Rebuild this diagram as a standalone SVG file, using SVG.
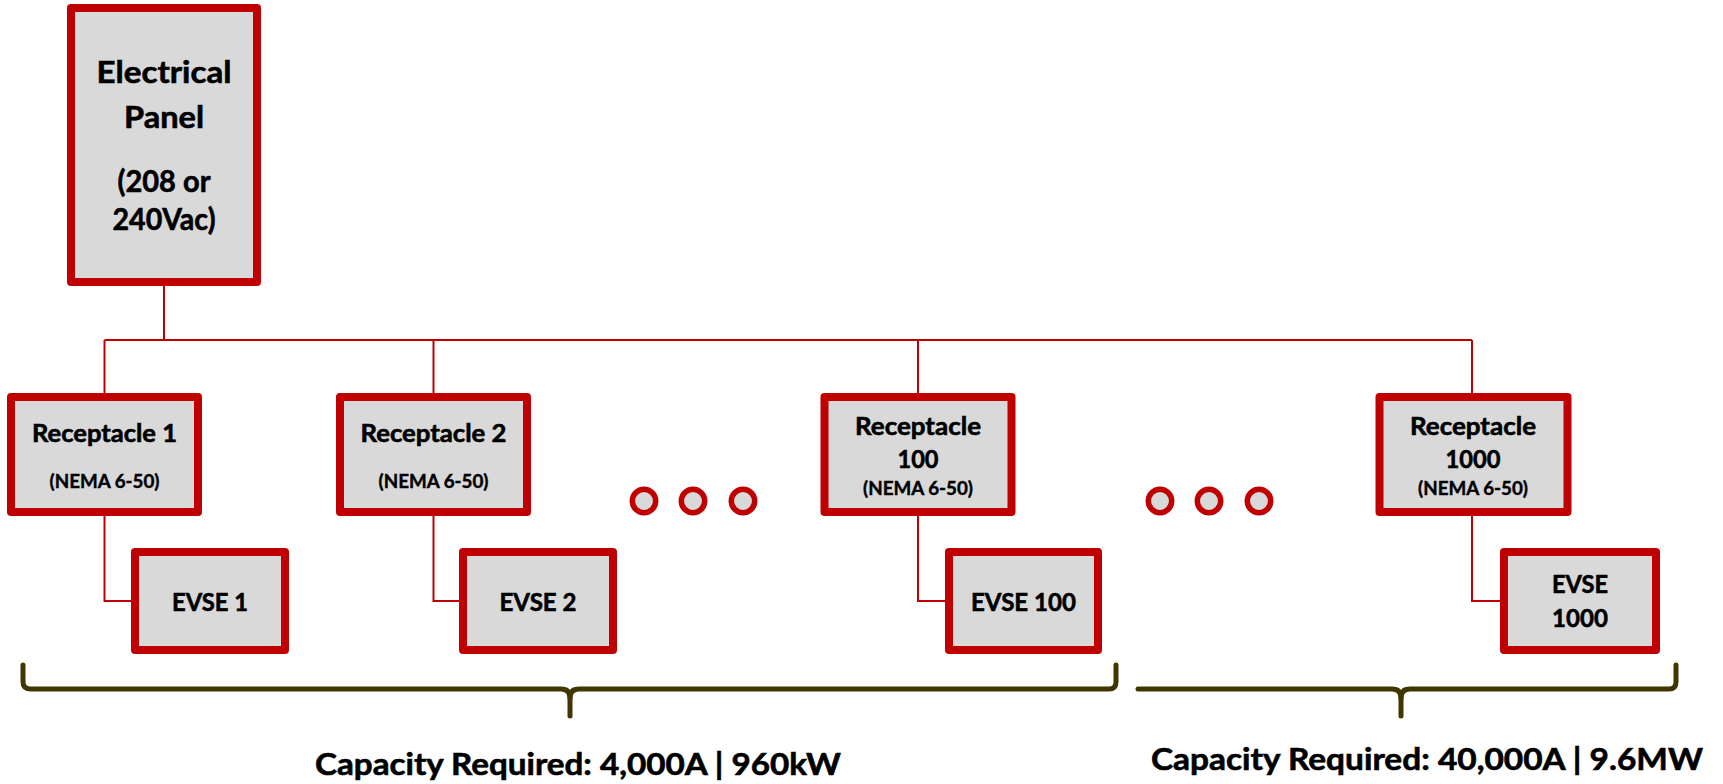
<svg xmlns="http://www.w3.org/2000/svg" width="1723" height="784" viewBox="0 0 1723 784">
<style>
.box{fill:#D9D9D9;stroke:#C00000;stroke-width:8;stroke-linejoin:round}
.dot{fill:#D9D9D9;stroke:#C00000;stroke-width:5.5}
.wire{fill:none;stroke:#C00000;stroke-width:2}
.brace{fill:none;stroke:#403600;stroke-width:5;stroke-linecap:round;stroke-linejoin:round}
text{font-family:Lato,"Open Sans","Liberation Sans",sans-serif;font-weight:700;fill:#000;stroke:#000;stroke-width:0.6;text-anchor:middle}
.big{font-size:31px}
.mid{font-size:25px}
.small{font-size:18px;stroke-width:0.4}
.cap{font-size:30px}
</style>
<rect width="1723" height="784" fill="#FFFFFF"/>
<g id="connectors">
<path class="wire" d="M164 286 V340"/>
<path class="wire" d="M104.5 340 H1472"/>
<path class="wire" d="M104.5 340 V393"/>
<path class="wire" d="M433.5 340 V393"/>
<path class="wire" d="M918 340 V393"/>
<path class="wire" d="M1472 340 V393"/>
<path class="wire" d="M104.5 516 V601 H131"/>
<path class="wire" d="M433.5 516 V601 H459"/>
<path class="wire" d="M918 516 V601 H945"/>
<path class="wire" d="M1472 516 V601 H1500"/>
</g>
<g id="panel">
<rect class="box" x="71" y="8" width="186" height="274"/>
<text class="big" x="164" y="83" textLength="135" lengthAdjust="spacingAndGlyphs">Electrical</text>
<text class="big" x="164" y="128" textLength="80" lengthAdjust="spacingAndGlyphs">Panel</text>
<text class="big" x="164" y="192" textLength="93" lengthAdjust="spacingAndGlyphs">(208 or</text>
<text class="big" x="164" y="230" textLength="103" lengthAdjust="spacingAndGlyphs">240Vac)</text>
</g>
<g id="receptacle1">
<rect class="box" x="11" y="397" width="187" height="115"/>
<text class="mid" x="104.5" y="442" textLength="145" lengthAdjust="spacingAndGlyphs">Receptacle 1</text>
<text class="small" x="104.5" y="488" textLength="110" lengthAdjust="spacingAndGlyphs">(NEMA 6-50)</text>
</g>
<g id="receptacle2">
<rect class="box" x="340" y="397" width="187" height="115"/>
<text class="mid" x="433.5" y="442" textLength="146" lengthAdjust="spacingAndGlyphs">Receptacle 2</text>
<text class="small" x="433.5" y="488" textLength="110" lengthAdjust="spacingAndGlyphs">(NEMA 6-50)</text>
</g>
<g id="receptacle100">
<rect class="box" x="824.5" y="397" width="187" height="115"/>
<text class="mid" x="918" y="435" textLength="126" lengthAdjust="spacingAndGlyphs">Receptacle</text>
<text class="mid" x="918" y="468" textLength="41" lengthAdjust="spacingAndGlyphs">100</text>
<text class="small" x="918" y="495" textLength="110" lengthAdjust="spacingAndGlyphs">(NEMA 6-50)</text>
</g>
<g id="receptacle1000">
<rect class="box" x="1379.5" y="397" width="188" height="115"/>
<text class="mid" x="1473" y="435" textLength="126" lengthAdjust="spacingAndGlyphs">Receptacle</text>
<text class="mid" x="1473" y="468" textLength="55" lengthAdjust="spacingAndGlyphs">1000</text>
<text class="small" x="1473" y="495" textLength="110" lengthAdjust="spacingAndGlyphs">(NEMA 6-50)</text>
</g>
<g id="evse1">
<rect class="box" x="135" y="552" width="150" height="98"/>
<text class="mid" x="210" y="611" textLength="76" lengthAdjust="spacingAndGlyphs">EVSE 1</text>
</g>
<g id="evse2">
<rect class="box" x="463" y="552" width="150" height="98"/>
<text class="mid" x="538" y="611" textLength="77" lengthAdjust="spacingAndGlyphs">EVSE 2</text>
</g>
<g id="evse100">
<rect class="box" x="949" y="552" width="149" height="98"/>
<text class="mid" x="1023.5" y="611" textLength="105" lengthAdjust="spacingAndGlyphs">EVSE 100</text>
</g>
<g id="evse1000">
<rect class="box" x="1504" y="552" width="152" height="98"/>
<text class="mid" x="1580" y="593" textLength="56" lengthAdjust="spacingAndGlyphs">EVSE</text>
<text class="mid" x="1580" y="627" textLength="56" lengthAdjust="spacingAndGlyphs">1000</text>
</g>
<g id="dots1">
<circle class="dot" cx="644" cy="501" r="11.7"/>
<circle class="dot" cx="693" cy="501" r="11.7"/>
<circle class="dot" cx="743" cy="501" r="11.7"/>
</g>
<g id="dots2">
<circle class="dot" cx="1160" cy="501" r="11.7"/>
<circle class="dot" cx="1209" cy="501" r="11.7"/>
<circle class="dot" cx="1259" cy="501" r="11.7"/>
</g>
<g id="brace1">
<path class="brace" d="M23 665 V682 Q23 689 31 689 H561 Q570 689 570 698 V716"/>
<path class="brace" d="M570 698 Q570 689 579 689 H1109 Q1116 689 1116 682 V665"/>
<text class="cap" x="578" y="775" textLength="526" lengthAdjust="spacingAndGlyphs">Capacity Required: 4,000A | 960kW</text>
</g>
<g id="brace2">
<path class="brace" d="M1138 689 H1392 Q1401 689 1401 698 V716"/>
<path class="brace" d="M1401 698 Q1401 689 1410 689 H1669 Q1676 689 1676 682 V665"/>
<text class="cap" x="1427" y="770" textLength="552" lengthAdjust="spacingAndGlyphs">Capacity Required: 40,000A | 9.6MW</text>
</g>
</svg>
